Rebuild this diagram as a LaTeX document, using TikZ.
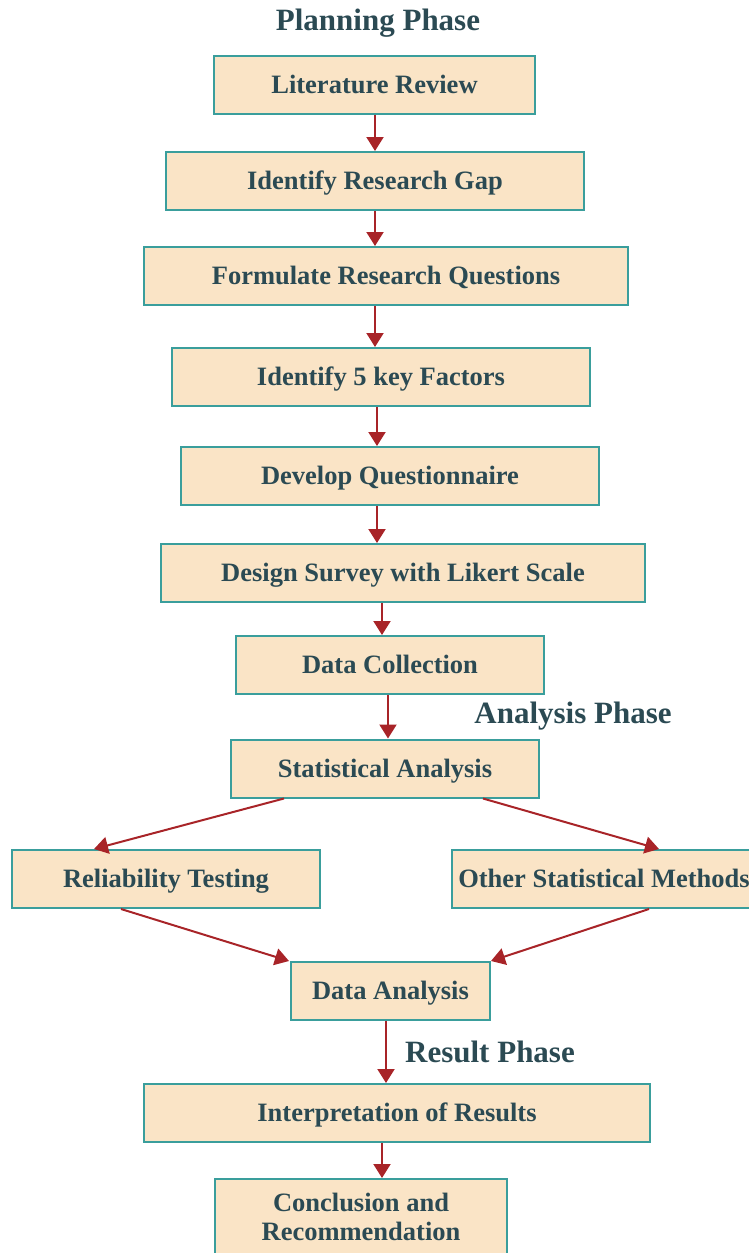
\documentclass[tikz,border=0pt]{standalone}
\usepackage{fontspec}
\setmainfont{Liberation Serif}
\usetikzlibrary{arrows.meta}
\definecolor{boxfill}{HTML}{FAE4C6}
\definecolor{boxline}{HTML}{3A9E9C}
\definecolor{txt}{HTML}{2B4A53}
\definecolor{arrowc}{HTML}{A82428}
\begin{document}
\begin{tikzpicture}[x=1pt,y=-1pt,
  stepbox/.style={draw=boxline, line width=2pt, fill=boxfill, text=txt,
    font=\fontsize{26.5}{29}\selectfont\bfseries, inner sep=0pt, minimum height=58pt},
  oneline/.style={text height=19pt, text depth=2pt},
  arr/.style={draw=arrowc, line width=2pt, -{Triangle[width=17pt,length=14pt]}},
  phase/.style={text=txt, font=\fontsize{31}{36}\selectfont\bfseries, anchor=base, inner sep=0pt}]
\useasboundingbox (0,0) rectangle (748,1253);
\node[stepbox, oneline, minimum width=321pt] (lr) at (374.5,84.5) {Literature Review};
\node[stepbox, oneline, minimum width=418pt] (gap) at (375,181) {Identify Research Gap};
\node[stepbox, oneline, minimum width=484pt] (rq) at (386,276) {Formulate Research Questions};
\node[stepbox, oneline, minimum width=418pt] (kf) at (381,377) {Identify 5 key Factors};
\node[stepbox, oneline, minimum width=418pt] (dq) at (390,476) {Develop Questionnaire};
\node[stepbox, oneline, minimum width=484pt] (ds) at (403,573) {Design Survey with Likert Scale};
\node[stepbox, oneline, minimum width=308pt] (dc) at (390,665) {Data Collection};
\node[stepbox, oneline, minimum width=308pt] (sa) at (385,768.5) {Statistical Analysis};
\node[stepbox, oneline, minimum width=308pt] (rt) at (166,879) {Reliability Testing};
\node[stepbox, oneline, minimum width=304pt] (os) at (604,879) {Other Statistical Methods};
\node[stepbox, oneline, minimum width=199pt] (da) at (390.5,991) {Data Analysis};
\node[stepbox, oneline, minimum width=506pt] (ir) at (397,1113) {Interpretation of Results};
\node[stepbox, align=center, minimum width=292pt, minimum height=76pt] (cr) at (361,1217) {Conclusion and\\Recommendation};

\node[phase] (pp) at (378,30) {Planning Phase};
\node[phase] (ap) at (573,723) {Analysis Phase};
\node[phase] (rp) at (490,1062) {Result Phase};

\draw[arr] (lr.south -| 375,0) -- (gap.north -| 375,0);
\draw[arr] (gap.south -| 375,0) -- (rq.north -| 375,0);
\draw[arr] (rq.south -| 375,0) -- (kf.north -| 375,0);
\draw[arr] (kf.south -| 377,0) -- (dq.north -| 377,0);
\draw[arr] (dq.south -| 377,0) -- (ds.north -| 377,0);
\draw[arr] (ds.south -| 382,0) -- (dc.north -| 382,0);
\draw[arr] (dc.south -| 388,0) -- (sa.north -| 388,0);
\draw[arr] ([xshift=54pt]sa.south west) -- ([xshift=83pt]rt.north west);
\draw[arr] ([xshift=253pt]sa.south west) -- ([xshift=208pt]os.north west);
\draw[arr] ([xshift=110pt]rt.south west) -- ([xshift=-1pt]da.north west);
\draw[arr] ([xshift=198pt]os.south west) -- (da.north east);
\draw[arr] (da.south -| 386,0) -- (ir.north -| 386,0);
\draw[arr] (ir.south -| 382,0) -- (cr.north -| 382,0);
\end{tikzpicture}
\end{document}
